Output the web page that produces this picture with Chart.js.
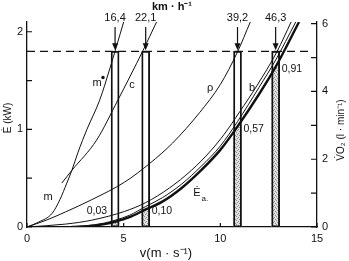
<!DOCTYPE html>
<html lang="en">
<head>
<meta charset="UTF-8">
<title>Power vs running speed</title>
<script src="https://cdn.jsdelivr.net/npm/chart.js"></script>
<style>
    html, body { margin: 0; padding: 0; background: #fff; }
    canvas { display: block; }
</style>
</head>
<body>
<canvas id="powerChart" width="349" height="261"></canvas>
<script>
// speeds marked on top (km/h) and share of the 1.8 kW reached by Ea at that speed
const speedsKmh = [16.4, 22.1, 39.2, 46.3];
const eaShare = [0.03, 0.10, 0.57, 0.91];
const eMax = 1.8;
const eMaxLine = [[0, 1.8], [14.8, 1.8]];

// curves: [v (m/s), E (kW)]
const curveM = [[0,0],[0.6,0.05],[1.3,0.14],[1.7,0.28],[2.06,0.45],[2.32,0.58],[2.63,0.76],[3.1,1.0],[3.76,1.3],[4.28,1.62],[5.0,2.1]];
const curveC = [[1.8,0.45],[2.32,0.58],[3.6,0.89],[4.7,1.3],[5.98,1.8],[6.7,2.1]];
const curveRho = [[0,0],[1,0.07],[2,0.155],[3.35,0.28],[5.05,0.46],[6.34,0.65],[7.53,0.86],[8.92,1.17],[10,1.46],[10.88,1.79],[11.55,2.1]];
const curveB = [[0,0],[2,0.03],[3.35,0.07],[5.05,0.16],[6.14,0.25],[7.37,0.4],[8.5,0.58],[9.5,0.78],[10.2,0.95],[11,1.18],[11.9,1.45],[12.94,1.8],[13.66,2.1]];
const curveTotal = [[1.8,0],[3,0.012],[4,0.04],[4.56,0.07],[5.3,0.12],[6.14,0.21],[7,0.3],[8,0.44],[9,0.62],[10,0.83],[10.89,1.08],[12,1.43],[12.86,1.71],[13.9,2.1]];
const curveEa = [[2.3,0],[3,0.005],[4,0.03],[4.56,0.054],[5.3,0.1],[6.14,0.18],[7,0.26],[8,0.4],[9,0.58],[10,0.79],[10.89,1.03],[12,1.36],[12.86,1.64],[14.07,2.1]];

// axis ticks
const vTicks = [0, 5, 10, 15];
const eTicks = [0, 0.5, 1, 1.5, 2];
const vo2Ticks = [0, 1, 2, 3, 4, 5, 6];

const FONT = "'Liberation Sans', Arial, sans-serif";
const INK = '#111';

const toXY = arr => arr.map(p => ({ x: p[0], y: p[1] }));
const speedsMs = speedsKmh.map(k => k / 3.6);

// light grey dotted fill like the printed screen
function stipple() {
    const c = document.createElement('canvas');
    c.width = 4; c.height = 4;
    const g = c.getContext('2d');
    g.fillStyle = '#e2e2e2';
    g.fillRect(0, 0, 4, 4);
    g.fillStyle = '#8c8c8c';
    g.fillRect(0, 0, 1, 1);
    g.fillRect(2, 1, 1, 1);
    g.fillRect(1, 2, 1, 1);
    g.fillRect(3, 3, 1, 1);
    return g.createPattern(c, 'repeat');
}

function curve(data, width) {
    return {
        type: 'line',
        data: toXY(data),
        borderColor: INK,
        borderWidth: width || 1,
        pointRadius: 0,
        cubicInterpolationMode: 'monotone',
        fill: false,
        order: 1
    };
}

// ticks, arrows, labels and axis titles
const annotations = {
    id: 'annotations',
    afterDraw(chart) {
        const { ctx, chartArea: a, scales: { x, y, y2 } } = chart;
        ctx.save();
        ctx.strokeStyle = INK;
        ctx.fillStyle = INK;
        ctx.lineWidth = 1.2;

        // inward tick marks
        ctx.beginPath();
        vTicks.forEach(v => { const px = x.getPixelForValue(v); ctx.moveTo(px, a.bottom); ctx.lineTo(px, a.bottom - 4); });
        eTicks.forEach(v => { const py = y.getPixelForValue(v); ctx.moveTo(a.left, py); ctx.lineTo(a.left + 5, py); });
        vo2Ticks.forEach(v => { const py = y2.getPixelForValue(v); ctx.moveTo(a.right, py); ctx.lineTo(a.right - 6, py); });
        ctx.stroke();

        // arrows with km/h values
        ctx.font = '11px ' + FONT;
        ctx.textAlign = 'center';
        ctx.textBaseline = 'middle';
        speedsMs.forEach((v, i) => {
            const px = x.getPixelForValue(v);
            const tip = y.getPixelForValue(eMax) - 1;
            ctx.beginPath();
            ctx.moveTo(px, a.top + 5);
            ctx.lineTo(px, tip - 3);
            ctx.stroke();
            ctx.beginPath();
            ctx.moveTo(px - 3, tip - 7);
            ctx.lineTo(px + 3, tip - 7);
            ctx.lineTo(px, tip);
            ctx.closePath();
            ctx.fill();
            ctx.fillText(String(speedsKmh[i]).replace('.', ','), px, a.top - 4);

            // share of max power reached by Ea
            const top = y.getPixelForValue(eaShare[i] * eMax);
            const txt = eaShare[i].toFixed(2).replace('.', ',');
            ctx.font = '10.5px ' + FONT;
            if (i === 0) {
                ctx.textAlign = 'right';
                ctx.fillText(txt, px - 8, top - 11);
            } else {
                ctx.textAlign = 'left';
                ctx.fillText(txt, px + 6, top + 2);
            }
            ctx.font = '11px ' + FONT;
            ctx.textAlign = 'center';
        });

        // curve names
        ctx.font = '11px ' + FONT;
        const put = (t, v, e) => ctx.fillText(t, x.getPixelForValue(v), y.getPixelForValue(e));
        put('m', 1.09, 0.31);
        put('m', 3.62, 1.48);
        ctx.beginPath();
        ctx.arc(x.getPixelForValue(3.62) + 6, y.getPixelForValue(1.48) - 5, 1.7, 0, Math.PI * 2);
        ctx.fill();
        put('c', 5.43, 1.45);
        put('ρ', 9.47, 1.42);
        put('b', 11.64, 1.42);
        put('Ė', 8.79, 0.35);
        ctx.font = '8px ' + FONT;
        put('a.', 9.2, 0.29);

        // top unit
        ctx.font = 'bold 11px ' + FONT;
        ctx.fillText('km · h⁻¹', 172, 7);

        // bottom title
        ctx.font = '13px ' + FONT;
        ctx.fillText('v(m · s⁻¹)', 166, 253);

        // left title
        ctx.font = '10px ' + FONT;
        ctx.save();
        ctx.translate(8, 118);
        ctx.rotate(-Math.PI / 2);
        ctx.fillText('Ė (kW)', 0, 0);
        ctx.restore();

        // right title
        ctx.save();
        ctx.translate(341, 130);
        ctx.rotate(-Math.PI / 2);
        ctx.fillText('V̇O₂ (l · min⁻¹)', 0, 0);
        ctx.restore();

        ctx.restore();
    }
};

const canvas = document.getElementById('powerChart');
const pattern = stipple();

new Chart(canvas, {
    type: 'line',
    data: {
        datasets: [
            curve(curveM), curve(curveC), curve(curveRho), curve(curveB), curve(curveTotal),
            curve(curveEa, 2.4),
            {
                type: 'line',
                data: toXY(eMaxLine),
                borderColor: INK,
                borderWidth: 1.3,
                borderDash: [8, 5],
                pointRadius: 0,
                order: 2
            },
            {
                type: 'bar',
                data: speedsMs.map(v => ({ x: v, y: eMax })),
                backgroundColor: 'rgba(0,0,0,0)',
                borderColor: INK,
                borderWidth: 1.2,
                borderSkipped: false,
                barThickness: 8,
                grouped: false,
                order: 3
            },
            {
                type: 'bar',
                data: speedsMs.map((v, i) => ({ x: v, y: eaShare[i] * eMax })),
                backgroundColor: pattern,
                borderWidth: 0,
                barThickness: 8,
                grouped: false,
                order: 4
            }
        ]
    },
    options: {
        responsive: false,
        animation: false,
        devicePixelRatio: 1,
        layout: { padding: { top: 22, left: 0, right: 0, bottom: 0 } },
        plugins: { legend: { display: false }, tooltip: { enabled: false } },
        scales: {
            x: {
                type: 'linear', min: 0, max: 15, offset: false,
                ticks: { stepSize: 5, includeBounds: false, padding: 5, color: INK, font: { family: FONT, size: 11 } },
                grid: { display: false, drawTicks: false, offset: false },
                border: { display: true, color: INK, width: 1.3 },
                afterFit: s => { s.height = 34; }
            },
            y: {
                position: 'left', min: 0, max: 2.1,
                ticks: { stepSize: 0.5, includeBounds: false, padding: 4, color: INK, font: { family: FONT, size: 11 },
                    callback: v => Number.isInteger(v) ? v : '' },
                grid: { display: false, drawTicks: false },
                border: { display: true, color: INK, width: 1.3 },
                afterFit: s => { s.width = 27; }
            },
            y2: {
                position: 'right', min: 0, max: 6.05,
                ticks: { stepSize: 1, includeBounds: false, padding: 5, color: INK, font: { family: FONT, size: 11 },
                    callback: v => v % 2 === 0 ? v : '' },
                grid: { display: false, drawTicks: false },
                border: { display: true, color: INK, width: 1.3 },
                afterFit: s => { s.width = 32; }
            }
        }
    },
    plugins: [annotations]
});
</script>
</body>
</html>
